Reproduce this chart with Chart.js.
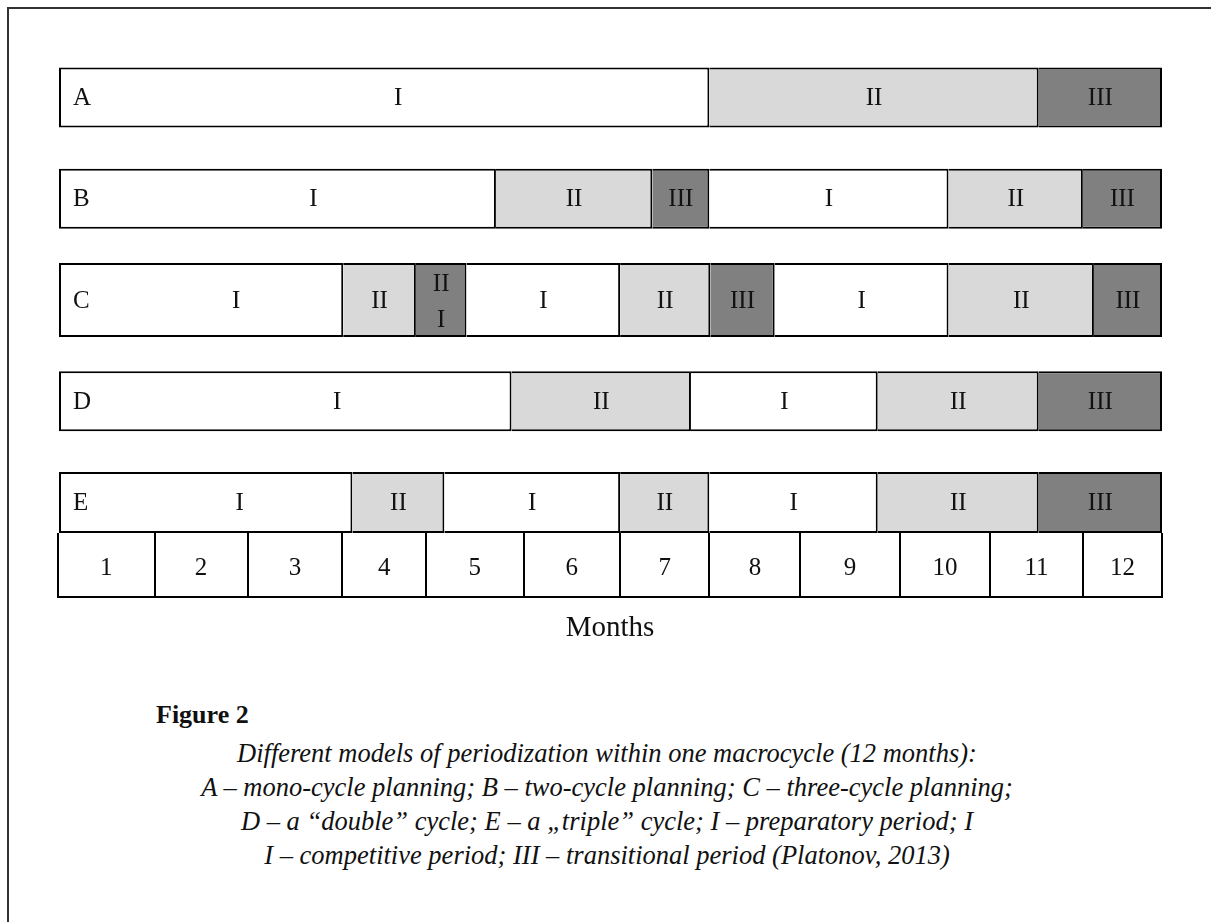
<!DOCTYPE html>
<html>
<head>
<meta charset="utf-8">
<script src="https://cdn.jsdelivr.net/npm/chart.js@4.4.1/dist/chart.umd.min.js"></script>
<style>
  html, body { margin: 0; padding: 0; background: #fff; }
  body { width: 1211px; height: 922px; position: relative; overflow: hidden; }
  .frame { position: absolute; left: 7px; top: 7px; width: 1400px; height: 1100px;
           border-top: 2px solid #333; border-left: 2px solid #333; }
  .wrap { position: absolute; left: 0; top: 0; width: 1211px; height: 660px; }
  .fig { position: absolute; left: 156px; top: 698px; font: bold 26px/34px "Liberation Serif", serif; color: #111; }
  .cap { position: absolute; left: 0; top: 736px; width: 1214px; text-align: center;
         font: italic 26.5px/34px "Liberation Serif", serif; color: #111; }
</style>
</head>
<body>
<div class="frame"></div>
<div class="wrap"><canvas id="chart"></canvas></div>
<div class="fig">Figure 2</div>
<div class="cap">
  Different models of periodization within one macrocycle (12 months):<br>
  A – mono-cycle planning; B – two-cycle planning; C – three-cycle planning;<br>
  D – a “double” cycle; E – a „triple” cycle; I – preparatory period; I<br>
  I – competitive period; III – transitional period (Platonov, 2013)
</div>
<script>
// rows of the periodization table, segment edges in months
const rowNames = ['A', 'B', 'C', 'D', 'E'];

const edgesA = [0, 7.08, 10.66, 12];
const phasesA = ['I', 'II', 'III'];

const edgesB = [0, 4.76, 6.46, 7.08, 9.68, 11.14, 12];
const phasesB = ['I', 'II', 'III', 'I', 'II', 'III'];

const edgesC = [0, 3.10, 3.89, 4.44, 6.11, 7.09, 7.79, 9.68, 11.26, 12];
const phasesC = ['I', 'II', 'III', 'I', 'II', 'III', 'I', 'II', 'III'];

const edgesD = [0, 4.93, 6.88, 8.91, 10.66, 12];
const phasesD = ['I', 'II', 'I', 'II', 'III'];

const edgesE = [0, 3.20, 4.20, 6.11, 7.08, 8.91, 10.66, 12];
const phasesE = ['I', 'II', 'I', 'II', 'I', 'II', 'III'];

// month cells under the table (unequal widths as in the source table)
const monthEdges = [0, 1.05, 2.06, 3.09, 4.0, 5.06, 6.11, 7.08, 8.07, 9.15, 10.13, 11.14, 12];
const monthLabels = ['1', '2', '3', '4', '5', '6', '7', '8', '9', '10', '11', '12'];

// styles
const phaseFill = { 'I': '#ffffff', 'II': '#d9d9d9', 'III': '#808080' };
const rowThickness = [60, 60, 74, 60, 61];
const leadShift = [14, 36, 35, 52, 34];   // first label sits right of the row letter
const rowPad = 0.3;
const labelFont = '25px "Liberation Serif", serif';

const allEdges = [edgesA, edgesB, edgesC, edgesD, edgesE];
const allPhases = [phasesA, phasesB, phasesC, phasesD, phasesE];

const datasets = rowNames.map((name, r) => {
  const edges = allEdges[r];
  const phases = allPhases[r];
  return {
    label: name,
    data: phases.map((p, i) => ({ x: [edges[i], edges[i + 1]], y: r })),
    backgroundColor: ctx => phaseFill[phases[ctx.dataIndex]],
    borderColor: '#000',
    borderWidth: ctx => ({ top: 2, bottom: 2, right: 2, left: ctx.dataIndex === 0 ? 2 : 0 }),
    borderSkipped: false,
    inflateAmount: 0,
    barThickness: rowThickness[r],
    stack: 'rows'
  };
});

const segmentLabels = {
  id: 'segmentLabels',
  afterDatasetsDraw(chart) {
    const ctx = chart.ctx;
    ctx.save();
    ctx.font = labelFont;
    ctx.fillStyle = '#111';
    ctx.textBaseline = 'middle';
    chart.data.datasets.forEach((ds, r) => {
      const meta = chart.getDatasetMeta(r);
      const phases = allPhases[r];
      meta.data.forEach((bar, i) => {
        const { x, y, base } = bar.getProps(['x', 'y', 'base'], true);
        const left = Math.min(x, base), right = Math.max(x, base);
        let cx = (left + right) / 2;
        if (i === 0) {
          ctx.textAlign = 'left';
          ctx.fillText(rowNames[r], left + 14, y + 1);
          cx += leadShift[r];
        }
        ctx.textAlign = 'center';
        const txt = phases[i];
        if (ctx.measureText(txt).width + 26 > right - left) {
          // narrow cell: text wraps like in the source table
          ctx.fillText(txt.slice(0, -1), cx, y - 16);
          ctx.fillText(txt.slice(-1), cx, y + 20);
        } else {
          ctx.fillText(txt, cx, y + 1);
        }
      });
    });
    ctx.restore();
  }
};

Chart.defaults.font.family = '"Liberation Serif", serif';
Chart.defaults.color = '#111';

new Chart(document.getElementById('chart'), {
  type: 'bar',
  data: { datasets: datasets },
  options: {
    indexAxis: 'y',
    responsive: true,
    maintainAspectRatio: false,
    animation: false,
    layout: { padding: { left: 58, right: 49, top: 67, bottom: 0 } },
    plugins: { legend: { display: false }, tooltip: { enabled: false } },
    scales: {
      y: {
        type: 'linear',
        reverse: true,
        offset: false,
        min: -rowPad,
        max: rowNames.length - 1 + rowPad,
        display: false
      },
      x: {
        type: 'linear',
        position: 'bottom',
        min: 0,
        max: 12,
        afterBuildTicks: axis => {
          const t = [];
          monthEdges.forEach((e, i) => {
            t.push({ value: e });
            if (i < monthLabels.length) t.push({ value: (e + monthEdges[i + 1]) / 2 });
          });
          axis.ticks = t;
        },
        afterFit: s => { s.height = 64; },
        border: { display: false },
        grid: {
          drawOnChartArea: false,
          tickLength: 64,
          lineWidth: 2,
          color: ctx => (ctx.index % 2 === 0 ? '#000' : 'rgba(0,0,0,0)')
        },
        ticks: {
          autoSkip: false,
          maxRotation: 0,
          minRotation: 0,
          padding: -44,
          font: { size: 25, lineHeight: 1.2 },
          callback: (v, i) => (i % 2 === 1 ? monthLabels[(i - 1) / 2] : '')
        }
      },
      x2: {
        type: 'linear',
        axis: 'x',
        position: 'bottom',
        min: 0,
        max: 12,
        afterFit: s => { s.height = 63; },
        grid: { display: false },
        ticks: { display: false },
        border: { display: true, color: '#000', width: 2 },
        title: {
          display: true,
          text: 'Months',
          font: { size: 29, lineHeight: 1.2 },
          padding: { top: 0, bottom: 14 }
        }
      }
    }
  },
  plugins: [segmentLabels]
});
</script>
</body>
</html>
